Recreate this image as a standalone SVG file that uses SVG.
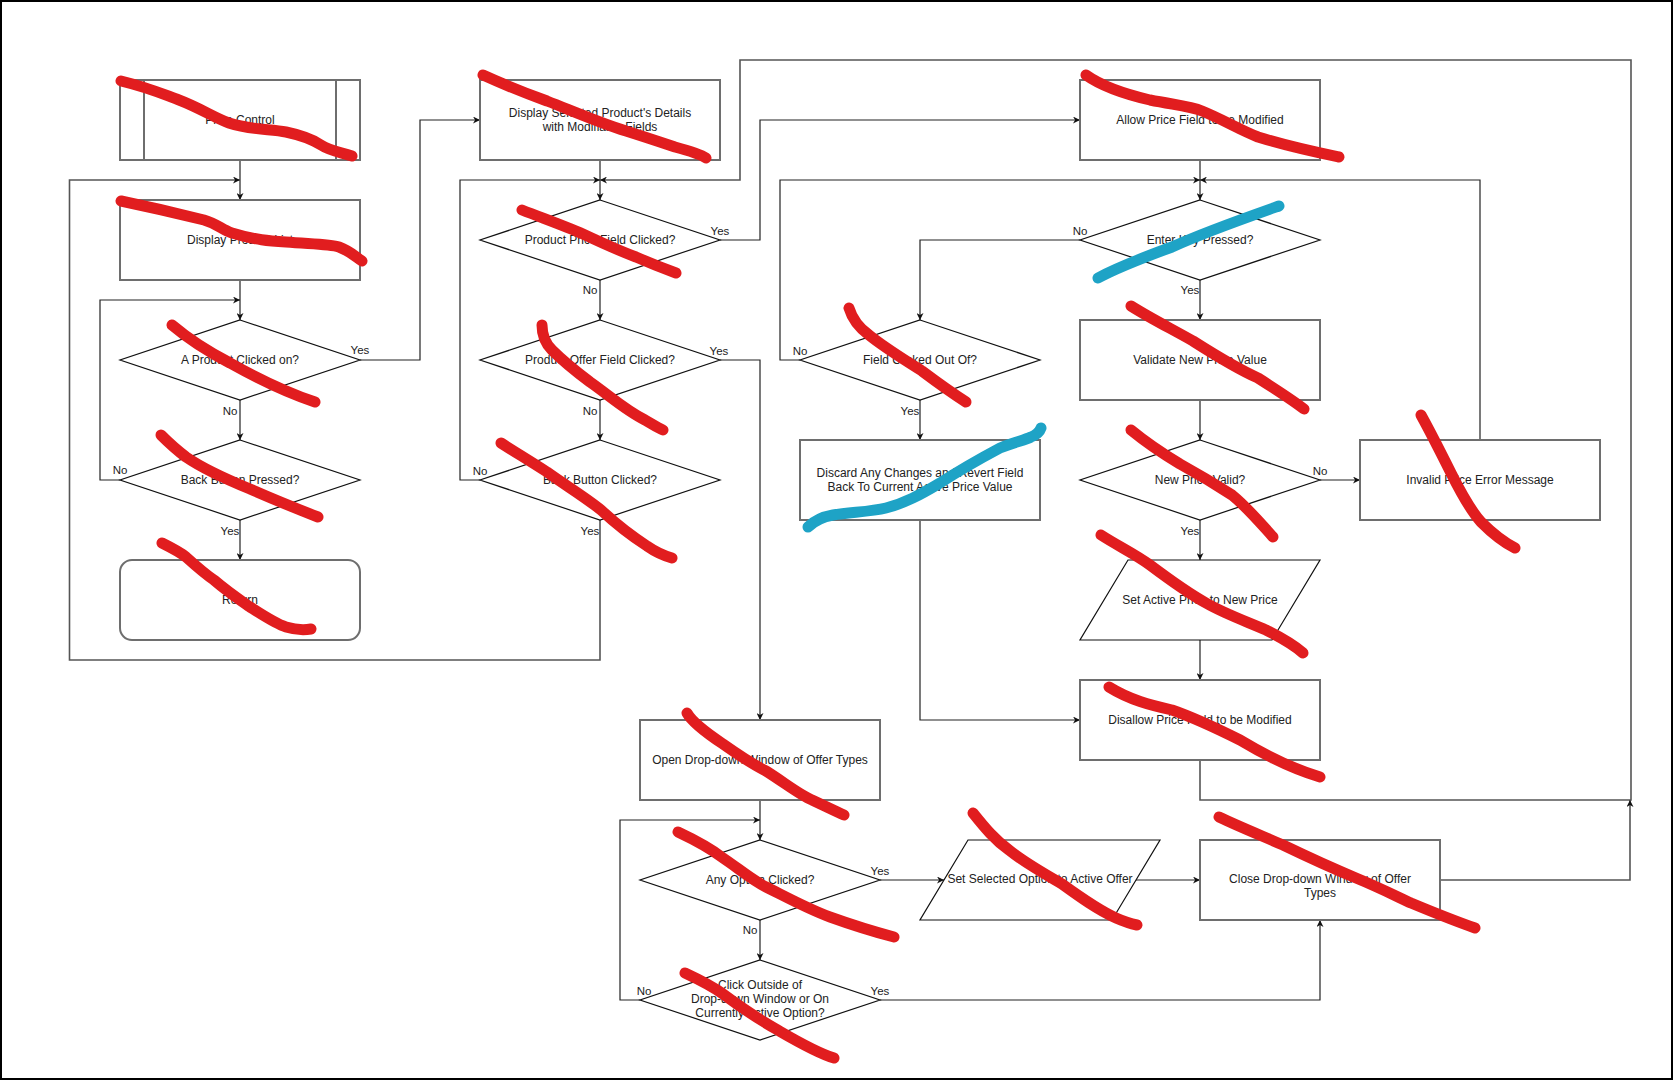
<svg xmlns="http://www.w3.org/2000/svg" width="1673" height="1081" viewBox="0 0 1673 1081">
<style>
.box{fill:#fff;stroke:#6e6e6e;stroke-width:2}
.dia{fill:#fff;stroke:#111;stroke-width:1.2}
.t{font-family:"Liberation Sans",Arial,sans-serif;font-size:12px;fill:#222;text-anchor:middle}
.lb{font-family:"Liberation Sans",Arial,sans-serif;font-size:11.5px;fill:#222;text-anchor:middle}
.c{fill:none;stroke:#222;stroke-width:1.2}
.cg{fill:none;stroke:#555;stroke-width:1.6}
.red{fill:none;stroke:#e11d1f;stroke-width:11;stroke-linecap:round;stroke-linejoin:round}
.blue{fill:none;stroke:#1ea3c6;stroke-width:11;stroke-linecap:round;stroke-linejoin:round}
</style>
<defs>
<marker id="a" viewBox="0 0 10 10" refX="10" refY="5" markerWidth="7" markerHeight="7" markerUnits="userSpaceOnUse" orient="auto">
<path d="M0,0 L10,5 L0,10 L3,5 Z" fill="#111"/>
</marker>
</defs>
<rect x="1" y="1" width="1671" height="1078" fill="#fff" stroke="#000" stroke-width="2"/>

<g id="connectors">
<path class="c" d="M240,160 V200" marker-end="url(#a)"/>
<path class="cg" d="M600,520 V660 H69.5 V180 H240" marker-end="url(#a)"/>
<path class="c" d="M240,280 V320" marker-end="url(#a)"/>
<path class="c" d="M120,480 H100 V300 H240" marker-end="url(#a)"/>
<path class="c" d="M360,360 H420 V120 H480" marker-end="url(#a)"/>
<path class="c" d="M240,400 V440" marker-end="url(#a)"/>
<path class="c" d="M240,520 V560" marker-end="url(#a)"/>
<path class="c" d="M600,160 V200" marker-end="url(#a)"/>
<path class="c" d="M480,480 H460 V180 H600" marker-end="url(#a)"/>
<path class="cg" d="M1200,760 V800 H1631 V60 H740 V180 H600" marker-end="url(#a)"/>
<path class="c" d="M720,240 H760 V120 H1080" marker-end="url(#a)"/>
<path class="c" d="M600,280 V320" marker-end="url(#a)"/>
<path class="c" d="M600,400 V440" marker-end="url(#a)"/>
<path class="c" d="M720,360 H760 V720" marker-end="url(#a)"/>
<path class="c" d="M1200,160 V200" marker-end="url(#a)"/>
<path class="c" d="M800,360 H780 V180 H1200" marker-end="url(#a)"/>
<path class="c" d="M1480,440 V180 H1200" marker-end="url(#a)"/>
<path class="c" d="M1080,240 H920 V320" marker-end="url(#a)"/>
<path class="c" d="M1200,280 V320" marker-end="url(#a)"/>
<path class="c" d="M920,400 V440" marker-end="url(#a)"/>
<path class="c" d="M1200,400 V440" marker-end="url(#a)"/>
<path class="c" d="M1320,480 H1360" marker-end="url(#a)"/>
<path class="c" d="M1200,520 V560" marker-end="url(#a)"/>
<path class="c" d="M1200,640 V680" marker-end="url(#a)"/>
<path class="c" d="M920,520 V720 H1080" marker-end="url(#a)"/>
<path class="c" d="M760,800 V840" marker-end="url(#a)"/>
<path class="c" d="M640,1000 H620 V820 H760" marker-end="url(#a)"/>
<path class="c" d="M880,880 H944" marker-end="url(#a)"/>
<path class="c" d="M760,920 V960" marker-end="url(#a)"/>
<path class="c" d="M1136,880 H1200" marker-end="url(#a)"/>
<path class="c" d="M880,1000 H1320 V920" marker-end="url(#a)"/>
<path class="cg" d="M1440,880 H1630 V800" marker-end="url(#a)"/>
</g>

<g id="labels">
<text class="lb" x="360" y="354">Yes</text>
<text class="lb" x="230" y="415">No</text>
<text class="lb" x="120" y="474">No</text>
<text class="lb" x="230" y="535">Yes</text>
<text class="lb" x="720" y="235">Yes</text>
<text class="lb" x="590" y="294">No</text>
<text class="lb" x="719" y="355">Yes</text>
<text class="lb" x="590" y="415">No</text>
<text class="lb" x="480" y="475">No</text>
<text class="lb" x="590" y="535">Yes</text>
<text class="lb" x="800" y="355">No</text>
<text class="lb" x="910" y="415">Yes</text>
<text class="lb" x="1080" y="235">No</text>
<text class="lb" x="1190" y="294">Yes</text>
<text class="lb" x="1320" y="475">No</text>
<text class="lb" x="1190" y="535">Yes</text>
<text class="lb" x="880" y="875">Yes</text>
<text class="lb" x="750" y="934">No</text>
<text class="lb" x="644" y="995">No</text>
<text class="lb" x="880" y="995">Yes</text>
</g>

<g id="price-control">
<rect class="box" x="120" y="80" width="240" height="80"/>
<line class="box" x1="144" y1="80" x2="144" y2="160"/>
<line class="box" x1="336" y1="80" x2="336" y2="160"/>
<text class="t" x="240" y="124">Price Control</text>
</g>
<g id="display-product-list">
<rect class="box" x="120" y="200" width="240" height="80"/>
<text class="t" x="240" y="244">Display Product List</text>
</g>
<g id="a-product-clicked">
<path class="dia" d="M240,320 L360,360 L240,400 L120,360 Z"/>
<text class="t" x="240" y="364">A Product Clicked on?</text>
</g>
<g id="back-button-pressed">
<path class="dia" d="M240,440 L360,480 L240,520 L120,480 Z"/>
<text class="t" x="240" y="484">Back Button Pressed?</text>
</g>
<g id="return">
<rect class="box" x="120" y="560" width="240" height="80" rx="12"/>
<text class="t" x="240" y="604">Return</text>
</g>

<g id="display-selected">
<rect class="box" x="480" y="80" width="240" height="80"/>
<text class="t" x="600" y="117">Display Selected Product's Details</text>
<text class="t" x="600" y="131">with Modifiable Fields</text>
</g>
<g id="price-field-clicked">
<path class="dia" d="M600,200 L720,240 L600,280 L480,240 Z"/>
<text class="t" x="600" y="244">Product Price Field Clicked?</text>
</g>
<g id="offer-field-clicked">
<path class="dia" d="M600,320 L720,360 L600,400 L480,360 Z"/>
<text class="t" x="600" y="364">Product Offer Field Clicked?</text>
</g>
<g id="back-button-clicked">
<path class="dia" d="M600,440 L720,480 L600,520 L480,480 Z"/>
<text class="t" x="600" y="484">Back Button Clicked?</text>
</g>

<g id="allow-price">
<rect class="box" x="1080" y="80" width="240" height="80"/>
<text class="t" x="1200" y="124">Allow Price Field to be Modified</text>
</g>
<g id="enter-key">
<path class="dia" d="M1200,200 L1320,240 L1200,280 L1080,240 Z"/>
<text class="t" x="1200" y="244">Enter Key Pressed?</text>
</g>
<g id="field-clicked-out">
<path class="dia" d="M920,320 L1040,360 L920,400 L800,360 Z"/>
<text class="t" x="920" y="364">Field Clicked Out Of?</text>
</g>
<g id="discard">
<rect class="box" x="800" y="440" width="240" height="80"/>
<text class="t" x="920" y="477">Discard Any Changes and Revert Field</text>
<text class="t" x="920" y="491">Back To Current Active Price Value</text>
</g>
<g id="validate">
<rect class="box" x="1080" y="320" width="240" height="80"/>
<text class="t" x="1200" y="364">Validate New Price Value</text>
</g>
<g id="new-price-valid">
<path class="dia" d="M1200,440 L1320,480 L1200,520 L1080,480 Z"/>
<text class="t" x="1200" y="484">New Price Valid?</text>
</g>
<g id="invalid-price">
<rect class="box" x="1360" y="440" width="240" height="80"/>
<text class="t" x="1480" y="484">Invalid Price Error Message</text>
</g>
<g id="set-active-price">
<path class="dia" d="M1128,560 L1320,560 L1272,640 L1080,640 Z"/>
<text class="t" x="1200" y="604">Set Active Price to New Price</text>
</g>
<g id="disallow-price">
<rect class="box" x="1080" y="680" width="240" height="80"/>
<text class="t" x="1200" y="724">Disallow Price Field to be Modified</text>
</g>

<g id="open-dropdown">
<rect class="box" x="640" y="720" width="240" height="80"/>
<text class="t" x="760" y="764">Open Drop-down Window of Offer Types</text>
</g>
<g id="any-option">
<path class="dia" d="M760,840 L880,880 L760,920 L640,880 Z"/>
<text class="t" x="760" y="884">Any Option Clicked?</text>
</g>
<g id="click-outside">
<path class="dia" d="M760,960 L880,1000 L760,1040 L640,1000 Z"/>
<text class="t" x="760" y="989">Click Outside of</text>
<text class="t" x="760" y="1003">Drop-down Window or On</text>
<text class="t" x="760" y="1017">Currently Active Option?</text>
</g>
<g id="set-selected">
<path class="dia" d="M968,840 L1160,840 L1112,920 L920,920 Z"/>
<text class="t" x="1040" y="883">Set Selected Option to Active Offer</text>
</g>
<g id="close-dropdown">
<rect class="box" x="1200" y="840" width="240" height="80"/>
<text class="t" x="1320" y="883">Close Drop-down Window of Offer</text>
<text class="t" x="1320" y="897">Types</text>
</g>

<g id="scribbles">
<path class="red" d="M121,81 C150,88 165,95 179,100 C200,108 215,118 229,123 C250,130 270,129 286,132 C305,136 315,141 321,145 C330,151 340,152 352,156"/>
<path class="red" d="M121,201 C150,207 180,214 204,220 C218,224 222,230 232,233 C255,240 270,241 286,242 C310,244 330,244 339,247 C350,251 356,257 362,261"/>
<path class="red" d="M172,325 C185,336 205,350 230,363 C255,377 285,392 315,402"/>
<path class="red" d="M161,435 C170,444 178,451 186,457 C205,470 228,480 250,489 C275,500 300,510 318,517"/>
<path class="red" d="M162,543 C172,548 180,552 186,557 C196,566 205,574 214,580 C228,592 240,600 250,607 C264,616 276,624 286,627 C296,630 305,630 311,629"/>
<path class="red" d="M483,75 C505,85 525,93 547,101 C575,112 600,123 626,131 C645,137 660,142 675,147 C690,151 700,154 706,158"/>
<path class="red" d="M522,210 C545,219 565,226 583,234 C600,242 620,251 636,257 C652,264 665,269 676,273"/>
<path class="red" d="M542,325 C542,335 545,343 552,350 C565,363 578,373 590,382 C610,396 625,410 645,420 C652,424 658,428 663,430"/>
<path class="red" d="M501,443 C515,452 530,461 547,472 C565,485 585,497 601,510 C615,523 630,535 647,546 C657,553 665,556 672,558"/>
<path class="red" d="M1086,75 C1100,85 1120,93 1150,100 C1175,105 1190,106 1202,111 C1222,119 1240,130 1258,137 C1290,147 1315,152 1339,157"/>
<path class="red" d="M1131,306 C1150,318 1170,328 1193,341 C1215,355 1240,370 1258,378 C1280,392 1295,402 1304,409"/>
<path class="red" d="M849,308 C852,318 858,327 869,335 C885,348 905,360 922,371 C938,383 952,393 966,402"/>
<path class="red" d="M1131,430 C1148,444 1165,455 1180,464 C1200,475 1218,486 1232,495 C1248,508 1262,525 1273,537"/>
<path class="red" d="M1421,415 C1432,435 1442,455 1451,473 C1462,495 1472,512 1481,522 C1495,536 1505,543 1515,548"/>
<path class="red" d="M1101,535 C1118,546 1135,554 1150,565 C1170,580 1188,593 1206,603 C1225,614 1248,622 1266,630 C1282,638 1295,646 1303,653"/>
<path class="red" d="M1109,687 C1130,700 1150,705 1172,710 C1195,718 1220,730 1240,740 C1265,755 1290,768 1320,777"/>
<path class="red" d="M687,713 C692,722 705,732 723,744 C740,756 752,764 766,771 C785,783 800,795 812,800 C825,806 835,811 844,815"/>
<path class="red" d="M678,832 C695,840 710,848 723,858 C738,868 752,880 766,887 C788,898 810,910 830,917 C855,926 875,932 894,937"/>
<path class="red" d="M685,973 C700,980 712,986 723,994 C742,1008 760,1020 776,1029 C795,1040 815,1052 834,1058"/>
<path class="red" d="M973,813 C985,828 995,840 1009,850 C1025,863 1045,874 1062,884 C1080,897 1098,910 1116,918 C1125,922 1132,924 1137,925"/>
<path class="red" d="M1219,817 C1240,827 1260,835 1283,845 C1310,858 1332,868 1356,878 C1378,887 1398,897 1411,903 C1435,913 1455,921 1475,928"/>
<path class="blue" d="M1098,278 C1120,266 1145,257 1172,247 C1205,232 1245,218 1279,206"/>
<path class="blue" d="M808,527 C815,520 822,517 833,515 C850,512 870,512 886,508 C905,503 920,495 940,483 C960,470 985,456 1000,448 C1015,442 1025,440 1031,437 C1036,435 1040,431 1041,428"/>
</g>
</svg>
